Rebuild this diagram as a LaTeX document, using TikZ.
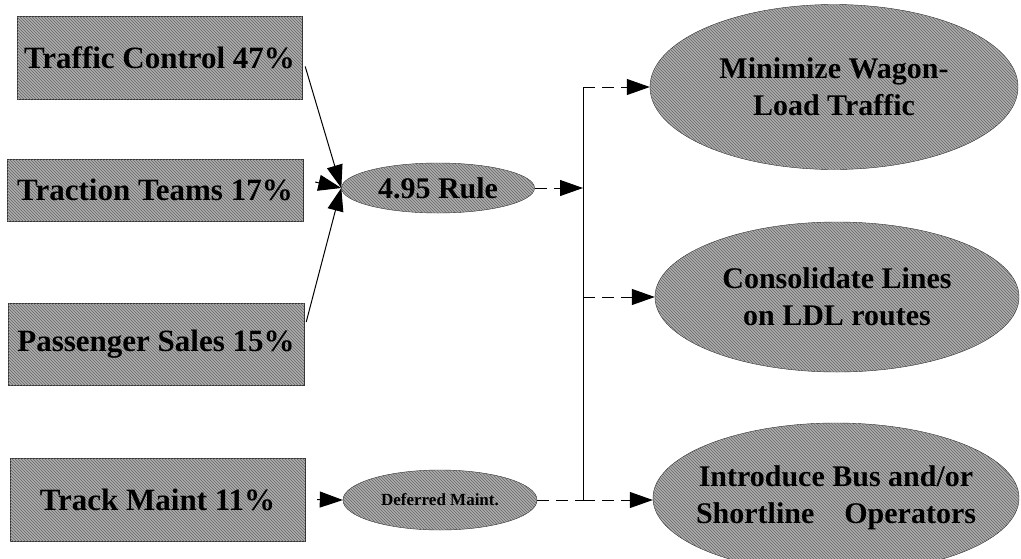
\documentclass[tikz,border=0pt]{standalone}
\usepackage{fontspec}
\setmainfont{Liberation Serif}
\usetikzlibrary{arrows.meta,shapes.geometric,patterns}
\begin{document}
\begin{tikzpicture}[x=1pt,y=-1pt,
  hatch/.style={fill=black!32,postaction={pattern=north west lines,pattern color=black!60}},
  srcbox/.style={draw=black!80,hatch,rectangle,inner sep=0pt,font=\fontsize{31}{33}\selectfont\bfseries},
  oval/.style={draw=black!85,hatch,ellipse,inner xsep=-20pt,inner ysep=0pt,align=center,font=\fontsize{30}{37}\selectfont\bfseries},
  bigtip/.style={-{Triangle[length=23pt,width=16pt]}},
  feedarrow/.style={black,line width=1pt,bigtip},
  outarrow/.style={black,line width=1pt,dash pattern=on 12pt off 7pt,bigtip}]
\useasboundingbox (0,0) rectangle (1021,558);
\node[srcbox,minimum width=285,minimum height=83] (tc) at (159.5,57.5) {Traffic Control 47\%};
\node[srcbox,minimum width=296,minimum height=62] (tt) at (155,190) {Traction Teams 17\%};
\node[srcbox,minimum width=296,minimum height=82] (ps) at (156,344) {Passenger Sales 15\%};
\node[srcbox,minimum width=295,minimum height=83] (tm) at (157.5,499.5) {Track Maint 11\%};
\node[oval,minimum width=193,minimum height=50,font=\fontsize{30}{32}\selectfont\bfseries] (rule) at (438,188) {4.95 Rule};
\node[oval,minimum width=194,minimum height=60,font=\fontsize{17}{18}\selectfont\bfseries] (dm) at (440,500) {Deferred Maint.};
\node[oval,minimum width=368,minimum height=165] (mw) at (834,87) {Minimize Wagon-\\Load Traffic};
\node[oval,minimum width=364,minimum height=150] (cl) at (837,297) {Consolidate Lines\\on LDL routes};
\node[oval,minimum width=366,minimum height=150] (ib) at (836,498) {Introduce Bus and/or\\Shortline\quad Operators};
\coordinate (bus) at (583,188);
\coordinate (bt) at (583,87);
\coordinate (bb) at (583,500);
\draw[feedarrow] (tc.east) ++(3,9) coordinate (tcs) -- (rule.west);
\draw[feedarrow] (tt.east) ++(12,-8) coordinate (tts) -- (rule.west);
\draw[feedarrow] (ps.east) ++(2,-22) coordinate (pss) -- (rule.west);
\draw[feedarrow] (tm.east) ++(12,0) coordinate (tms) -- (dm.west);
\draw[outarrow] (rule.east) -- (bus);
\draw[black,line width=1pt] (bt) -- (bb);
\draw[black,line width=1pt,dash pattern=on 12pt off 7pt] (dm.east) -- (bb);
\draw[outarrow] (bt) -- (mw.west);
\draw[outarrow] (cl.west -| bus) -- (cl.west);
\draw[outarrow] (bb) -- (bb -| ib.west);
\end{tikzpicture}
\end{document}
